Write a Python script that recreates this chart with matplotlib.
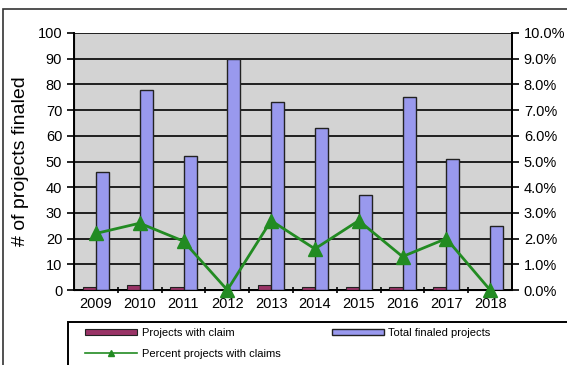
import matplotlib.pyplot as plt
from matplotlib.lines import Line2D
from matplotlib.patches import Rectangle
from matplotlib.ticker import FuncFormatter, MultipleLocator

years = ["2009", "2010", "2011", "2012", "2013", "2014", "2015", "2016", "2017", "2018"]
claims = [1, 2, 1, 0, 2, 1, 1, 1, 1, 0]
totals = [46, 78, 52, 90, 73, 63, 37, 75, 51, 25]
pct_claims = [2.2, 2.6, 1.9, 0.0, 2.7, 1.6, 2.7, 1.3, 2.0, 0.0]

W, H = 567, 365
fig = plt.figure(figsize=(W / 100, H / 100), dpi=100)
plt.rcParams["font.family"] = ["Liberation Sans", "DejaVu Sans"]

# outer chart frame
fig.patches.append(Rectangle((3 / W, -0.1), 1.2, (H - 9) / H + 0.1,
                             transform=fig.transFigure, fill=False,
                             edgecolor="#333333", linewidth=1.2))
# legend frame (runs off the right and bottom edges like the reference)
fig.patches.append(Rectangle((68 / W, -0.1), 1.2, (H - 322) / H + 0.1,
                             transform=fig.transFigure, fill=False,
                             edgecolor="black", linewidth=1.4))

ax = fig.add_axes([74 / W, 1 - 290 / H, (512 - 74) / W, (290 - 33) / H])
ax.set_facecolor("#d3d3d3")
x = list(range(len(years)))
bw = 0.3
ax.bar([i - 0.15 for i in x], claims, width=bw, color="#993366",
       edgecolor="#222222", linewidth=0.8, zorder=3, label="Projects with claim")
ax.bar([i + 0.15 for i in x], totals, width=bw, color="#9999ee",
       edgecolor="#222222", linewidth=1.0, zorder=3, label="Total finaled projects")
ax.set_ylim(0, 100)
ax.set_xlim(-0.5, len(years) - 0.5)
ax.yaxis.set_major_locator(MultipleLocator(10))
ax.grid(axis="y", color="black", linewidth=1.2, zorder=1)
ax.set_xticks(x)
ax.set_xticklabels(years, fontsize=10.5)
ax.set_xticks([i + 0.5 for i in x[:-1]], minor=True)
ax.tick_params(axis="x", which="major", length=0, pad=5)
ax.tick_params(axis="x", which="minor", length=5, direction="inout", width=1.2)
ax.tick_params(axis="y", labelsize=10.5, length=5, direction="out", width=1.2)
ax.set_ylabel("# of projects finaled", fontsize=14, labelpad=6)
ax.spines["top"].set_visible(False)
for s in ["left", "bottom", "right"]:
    ax.spines[s].set_linewidth(1.4)

ax2 = ax.twinx()
ax2.plot(x, pct_claims, color="#228b22", linewidth=2, marker="^",
         markersize=10, clip_on=False, zorder=5, label="Percent projects with claims")
ax2.set_ylim(0, 10)
ax2.yaxis.set_major_locator(MultipleLocator(1))
ax2.yaxis.set_major_formatter(FuncFormatter(lambda v, p: f"{v:.1f}%"))
ax2.tick_params(axis="y", labelsize=10.5, length=5, direction="out", width=1.2)
ax2.spines["top"].set_visible(False)
ax2.spines["right"].set_linewidth(1.4)

h1, l1 = ax.get_legend_handles_labels()
h2, l2 = ax2.get_legend_handles_labels()
line_h = Line2D([], [], color="#228b22", linewidth=1.2, marker="^", markersize=4)
leg = fig.legend([h1[0], line_h, h1[1]], [l1[0], l2[0], l1[1]], ncol=2,
                 loc="upper left", bbox_to_anchor=(85 / W, 1 - 328 / H),
                 fontsize=8, frameon=False,
                 handlelength=4.7, handleheight=0.55, handletextpad=0.4,
                 columnspacing=4.6, borderpad=0, labelspacing=1.0,
                 borderaxespad=0)

fig.savefig("out.png", dpi=100)
